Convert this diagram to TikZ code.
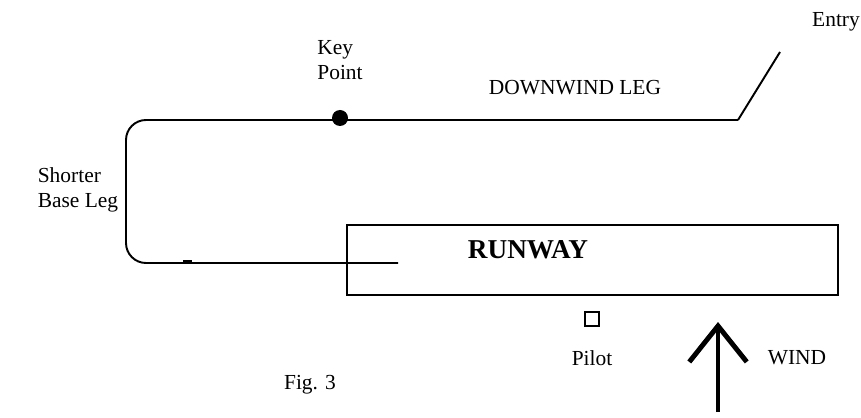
\documentclass[tikz,border=0pt]{standalone}
\usepackage{fontspec}
\setmainfont{Liberation Serif}
\usepackage{tikz}
\usetikzlibrary{arrows.meta, positioning}

\tikzset{
  lbl/.style={font=\fontsize{12.2}{14.5}\selectfont, align=left, inner sep=0pt},
  path line/.style={line width=1.1pt},
}

\begin{document}
\begin{tikzpicture}[x=0.02cm, y=-0.02cm]
	\useasboundingbox (0, 0) rectangle (861, 418);
	% Runway and pilot:
	\node[draw, line width=1.1pt, minimum width=9.82cm, minimum height=1.4cm, inner sep=0pt](runway) at (592.5, 260){};
	\node[font=\fontsize{15.5}{17}\selectfont\bfseries, inner sep=0pt](rwlabel) at (528, 250){RUNWAY};
	\node[draw, line width=0.9pt, minimum size=0.27cm, inner sep=0pt](pilot) at (592, 319){};
	\node[lbl, below=0.64cm of pilot.south, anchor=center](pilotlbl){Pilot};
	% Circuit:
	\coordinate (final) at (398, 263);
	\coordinate (basebot) at (126, 263);
	\coordinate (basetop) at (126, 120);
	\coordinate (dwend) at (738, 120);
	\coordinate (entry) at (780, 52);
	\draw[path line, rounded corners=0.4cm] (final) -- (basebot) -- (basetop) -- (dwend);
	\draw[path line] (dwend) -- (entry);
	\node[circle, fill=black, minimum size=0.32cm, inner sep=0pt](keypt) at (340, 118){};
	\coordinate (tickA) at (183, 262);
	\coordinate (tickB) at (192, 262);
	\draw[line width=2pt] (tickA) -- (tickB);
	% Labels:
	\node[lbl](keylbl) at (340, 60){Key\\Point};
	\node[lbl](dwlbl) at (575, 88){DOWNWIND LEG};
	\node[lbl](entrylbl) at (836, 22){Entry};
	\node[lbl](baselbl) at (78, 190){Shorter\\Base Leg};
	\node[lbl](figlbl) at (310, 385){Fig. 3};
	% Wind:
	\coordinate (windtail) at (718, 412);
	\coordinate (windtip) at (718, 322);
	\draw[line width=2.8pt, -{Straight Barb[length=0.72cm, width=1.15cm]}] (windtail) -- (windtip);
	\node[lbl](windlbl) at (797, 358){WIND};
\end{tikzpicture}
\end{document}
